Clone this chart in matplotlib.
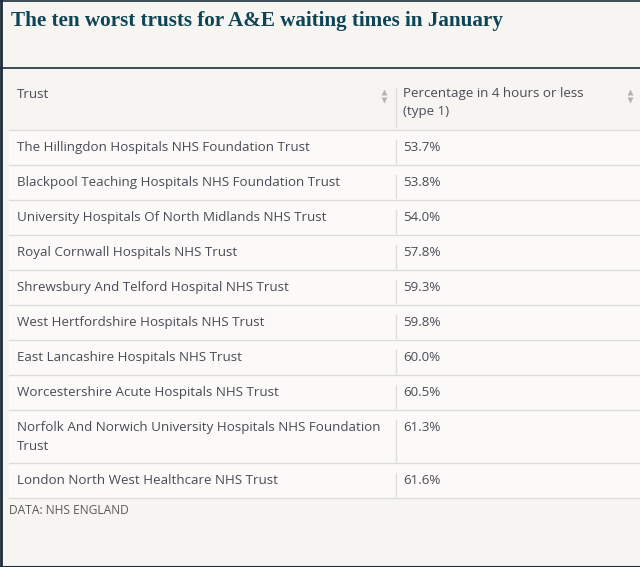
import textwrap
import matplotlib.pyplot as plt
from matplotlib.patches import Rectangle

title = "The ten worst trusts for A&E waiting times in January"
headers = ["Trust", "Percentage in 4 hours or less (type 1)"]
trusts = [
    "The Hillingdon Hospitals NHS Foundation Trust",
    "Blackpool Teaching Hospitals NHS Foundation Trust",
    "University Hospitals Of North Midlands NHS Trust",
    "Royal Cornwall Hospitals NHS Trust",
    "Shrewsbury And Telford Hospital NHS Trust",
    "West Hertfordshire Hospitals NHS Trust",
    "East Lancashire Hospitals NHS Trust",
    "Worcestershire Acute Hospitals NHS Trust",
    "Norfolk And Norwich University Hospitals NHS Foundation Trust",
    "London North West Healthcare NHS Trust",
]
pct = [53.7, 53.8, 54.0, 57.8, 59.3, 59.8, 60.0, 60.5, 61.3, 61.6]
source = "DATA: NHS ENGLAND"

W, H = 640, 567
page = "#f7f5f1"
cell = "#fbfaf8"
navy = "#1c2d3a"
txt = "#4a4b57"
grid = "#dcdcda"
fs = 13.4 * 0.72
sans = ["Open Sans", "DejaVu Sans"]

fig = plt.figure(figsize=(W / 100, H / 100), dpi=100, facecolor=page)
ax = fig.add_axes([0, 0, 1, 1])
ax.set_xlim(0, W)
ax.set_ylim(H, 0)
ax.axis("off")

# frame: top, left, bottom
ax.plot([0, W], [0.5, 0.5], color=navy, lw=1.2)
ax.plot([1, 1], [0, H], color=navy, lw=2)
ax.plot([0, W], [H - 0.5, H - 0.5], color=navy, lw=1.5)
ax.plot([0, W], [67.5, 67.5], color=navy, lw=1.2)

ax.text(11, 21, title, family=["Liberation Serif", "DejaVu Serif"], fontweight="bold",
        fontsize=21.2 * 0.72, color="#0d4456", va="center", ha="left")

x0, xdiv, line_h = 9, 396, 18

# header
ax.text(17, 94, headers[0], family=sans, fontsize=fs, color=txt, va="center")
ax.text(403, 87, "\n".join(textwrap.wrap(headers[1], 30)), family=sans, fontsize=fs,
        color=txt, va="top", ha="left", linespacing=1.55)
ax.plot([xdiv, xdiv], [88, 127], color=grid, lw=1)
for sx in (384, 630):
    ax.plot(sx, 92, marker="^", ms=5, color="#b4b4b4", mec="none")
    ax.plot(sx, 100, marker="v", ms=5, color="#b4b4b4", mec="none")

y = 130
ax.plot([x0, W], [y, y], color=grid, lw=1)
for name, v in zip(trusts, pct):
    lines = textwrap.wrap(name, 55)
    h = 35 + line_h * (len(lines) - 1)
    ax.add_patch(Rectangle((x0, y + 0.5), W - x0, h - 1, color=cell, lw=0))
    ax.text(17, y + 11, "\n".join(lines), family=sans, fontsize=fs, color=txt,
            va="top", ha="left", linespacing=1.55)
    ax.text(403, y + 11, f"{v:.1f}%", family=sans, fontsize=fs, color=txt,
            va="top", ha="left")
    ax.plot([xdiv, xdiv], [y + 10, y + h - 2], color=grid, lw=1)
    y += h
    ax.plot([x0, W], [y, y], color=grid, lw=1)

ax.text(9, y + 13, source, family=sans, fontsize=12 * 0.72, color="#5a5a5a",
        va="center", ha="left")

fig.savefig("out.png", dpi=100, facecolor=page)
